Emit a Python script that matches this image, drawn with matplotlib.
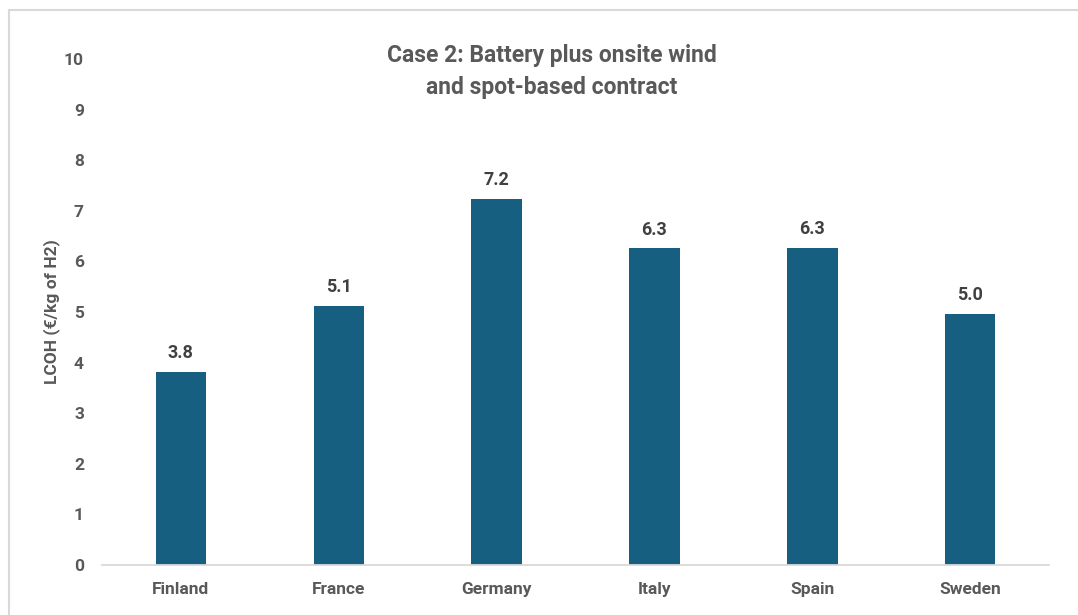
import matplotlib.pyplot as plt
from matplotlib.patches import Rectangle

# LCOH per country, case 2 (battery + onsite wind + spot-based contract)
countries = ["Finland", "France", "Germany", "Italy", "Spain", "Sweden"]
lcoh = [3.81, 5.12, 7.24, 6.26, 6.27, 4.97]

BAR_COLOR = "#175f80"
TEXT_COLOR = "#595959"

plt.rcParams['font.family'] = ['Roboto', 'DejaVu Sans']

fig = plt.figure(figsize=(10.78, 6.15), dpi=100)
ax = fig.add_axes([0.0946, 0.0813, 0.8786, 0.8228])

x = range(len(countries))
bars = ax.bar(x, lcoh, width=0.32, color=BAR_COLOR, zorder=2)

# value labels above each bar
for rect, v in zip(bars, lcoh):
    ax.annotate(f"{v:.1f}", (rect.get_x() + rect.get_width() / 2, v),
                xytext=(0, 7), textcoords="offset points",
                ha="center", va="bottom", fontsize=13,
                fontweight="bold", color="#404040")

ax.set_xlim(-0.5, len(countries) - 0.5)
ax.set_ylim(0, 10)
ax.set_yticks(range(0, 11))
ax.set_xticks(list(x))
ax.set_xticklabels(countries)

for s in ["top", "right", "left"]:
    ax.spines[s].set_visible(False)
ax.spines["bottom"].set_color("#d9d9d9")
ax.spines["bottom"].set_linewidth(1.3)

ax.tick_params(axis="y", length=0, pad=13, labelsize=12.5, labelcolor=TEXT_COLOR)
ax.tick_params(axis="x", length=0, pad=12.5, labelsize=12.5, labelcolor=TEXT_COLOR)
for lbl in ax.get_xticklabels() + ax.get_yticklabels():
    lbl.set_fontweight("bold")

ax.set_ylabel("LCOH (€/kg of H2)", fontsize=12.5, fontweight="bold",
              color=TEXT_COLOR, labelpad=3)

fig.text(0.512, 0.884, "Case 2: Battery plus onsite wind\nand spot-based contract",
         ha="center", va="center", fontsize=16.5, fontweight="bold",
         color=TEXT_COLOR, linespacing=1.5)

# light frame around the chart area
fig.patches.append(Rectangle((9 / 1078, -0.05), 1.2, 1 - 10 / 615 + 0.05,
                             transform=fig.transFigure, fill=False,
                             edgecolor="#d9d9d9", linewidth=1.5))

fig.savefig("out.png", dpi=100)
